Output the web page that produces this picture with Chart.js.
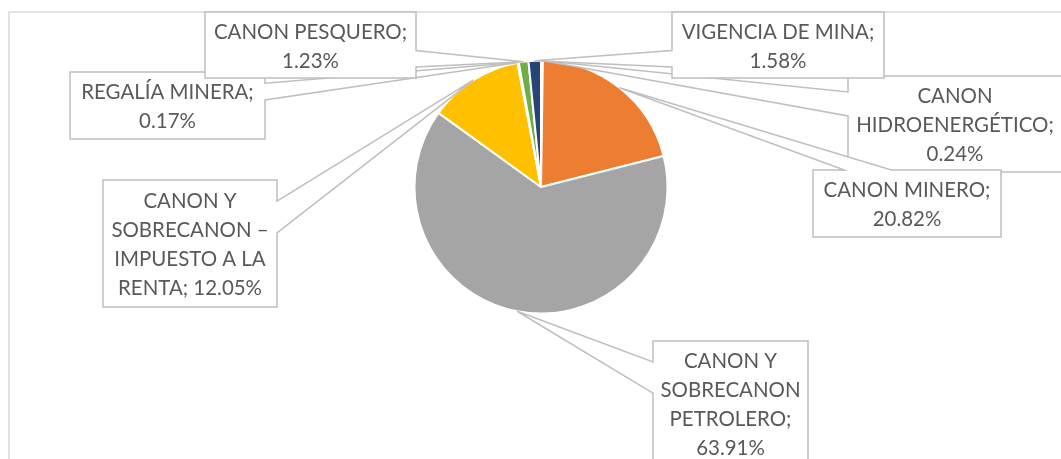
<!DOCTYPE html>
<html><head><meta charset="utf-8">
<script src="https://cdn.jsdelivr.net/npm/chart.js@4.4.1/dist/chart.umd.min.js"></script>
<style>html,body{margin:0;padding:0;background:#fff;overflow:hidden}#wrap{width:1061px;height:459px;position:relative}</style>
</head><body><div id="wrap"><canvas id="c" width="1061" height="459"></canvas></div>
<script>
// ---- data ----
const categories = [
  'CANON HIDROENERGÉTICO',
  'CANON MINERO',
  'CANON Y SOBRECANON PETROLERO',
  'CANON Y SOBRECANON – IMPUESTO A LA RENTA',
  'REGALÍA MINERA',
  'CANON PESQUERO',
  'VIGENCIA DE MINA'
];
const shares = [0.24, 20.82, 63.91, 12.05, 0.17, 1.23, 1.58];
const sliceColors = ['#4472C4', '#ED7D31', '#A5A5A5', '#FFC000', '#5B9BD5', '#70AD47', '#264478'];

// ---- label layout (callout boxes: left, top, width, height) ----
const calloutBoxes = [
  [848, 76, 214, 96],
  [813, 170, 188, 67],
  [653, 341, 155, 125],
  [103, 180, 174, 127],
  [70, 72, 195, 67],
  [205, 12, 211, 66],
  [672, 12, 212, 66]
];

const FONT_FAMILY = 'Lato, "Open Sans", sans-serif';
const LINE_H = 29;
// size the font so that text widths match the reference
const mctx = document.createElement('canvas').getContext('2d');
mctx.font = '100px ' + FONT_FAMILY;
const FONT_SIZE = 100 * 167 / mctx.measureText('CANON MINERO;').width;
const FONT = FONT_SIZE.toFixed(2) + 'px ' + FONT_FAMILY;

function wrap(ctx, text, maxW) {
  const words = text.split(' ');
  const lines = [];
  let cur = '';
  for (const w of words) {
    const t = cur ? cur + ' ' + w : w;
    if (cur && ctx.measureText(t).width > maxW) { lines.push(cur); cur = w; }
    else cur = t;
  }
  if (cur) lines.push(cur);
  return lines;
}

function calloutPath(ctx, l, t, w, h, px, py) {
  const r = l + w, b = t + h, hc = l + w / 2, vc = t + h / 2;
  const dx = px - hc, dy = py - vc;
  const dq = dx * h / w;
  const vert = Math.abs(dy) > Math.abs(dq);
  const x1 = l + w * (dx > 0 ? 7 : 2) / 12, x2 = l + w * (dx > 0 ? 10 : 5) / 12;
  const y1 = t + h * (dy > 0 ? 7 : 2) / 12, y2 = t + h * (dy > 0 ? 10 : 5) / 12;
  ctx.beginPath();
  ctx.moveTo(l, t);
  if (vert && dy < 0) { ctx.lineTo(x1, t); ctx.lineTo(px, py); ctx.lineTo(x2, t); }
  ctx.lineTo(r, t);
  if (!vert && dx > 0) { ctx.lineTo(r, y1); ctx.lineTo(px, py); ctx.lineTo(r, y2); }
  ctx.lineTo(r, b);
  if (vert && dy > 0) { ctx.lineTo(x2, b); ctx.lineTo(px, py); ctx.lineTo(x1, b); }
  ctx.lineTo(l, b);
  if (!vert && dx < 0) { ctx.lineTo(l, y2); ctx.lineTo(px, py); ctx.lineTo(l, y1); }
  ctx.closePath();
}

const framePlugin = {
  id: 'frame',
  beforeDraw(chart) {
    const ctx = chart.ctx;
    ctx.save();
    ctx.fillStyle = '#fff';
    ctx.fillRect(0, 0, chart.width, chart.height);
    ctx.strokeStyle = '#D9D9D9';
    ctx.lineWidth = 1.5;
    ctx.strokeRect(9, 12, 1200, 700);
    ctx.restore();
  }
};

const calloutPlugin = {
  id: 'callouts',
  afterDatasetsDraw(chart) {
    const ctx = chart.ctx;
    const meta = chart.getDatasetMeta(0);
    const ds = chart.data.datasets[0];
    ctx.save();
    ctx.font = FONT;
    meta.data.forEach((arc, i) => {
      const p = arc.getProps(['x', 'y', 'startAngle', 'endAngle', 'outerRadius'], true);
      const mid = (p.startAngle + p.endAngle) / 2;
      const tx = p.x + Math.cos(mid) * p.outerRadius;
      const ty = p.y + Math.sin(mid) * p.outerRadius;
      const [l, t, w, h] = calloutBoxes[i];
      calloutPath(ctx, l, t, w, h, tx, ty);
      ctx.fillStyle = '#FFFFFF';
      ctx.fill();
      ctx.strokeStyle = '#BFBFBF';
      ctx.lineWidth = 1.5;
      ctx.lineJoin = 'miter';
      ctx.stroke();
      const text = chart.data.labels[i] + '; ' + ds.data[i].toFixed(2) + '%';
      const lines = wrap(ctx, text, w - 4);
      ctx.fillStyle = '#595959';
      ctx.textAlign = 'center';
      ctx.textBaseline = 'alphabetic';
      const cx = l + w / 2, cy = t + h / 2 + 8.3;
      lines.forEach((ln, k) => {
        ctx.fillText(ln, cx, cy + (k - (lines.length - 1) / 2) * LINE_H);
      });
    });
    ctx.restore();
  }
};

new Chart(document.getElementById('c'), {
  type: 'pie',
  data: {
    labels: categories,
    datasets: [{
      data: shares,
      backgroundColor: sliceColors,
      borderColor: '#FFFFFF',
      borderWidth: 2,
      radius: 126.5
    }]
  },
  options: {
    responsive: false,
    animation: false,
    rotation: 0,
    layout: { padding: { left: 121, right: 100, top: 10, bottom: 95 } },
    plugins: { legend: { display: false }, tooltip: { enabled: false } },
    events: []
  },
  plugins: [framePlugin, calloutPlugin]
});
</script>
</body></html>
